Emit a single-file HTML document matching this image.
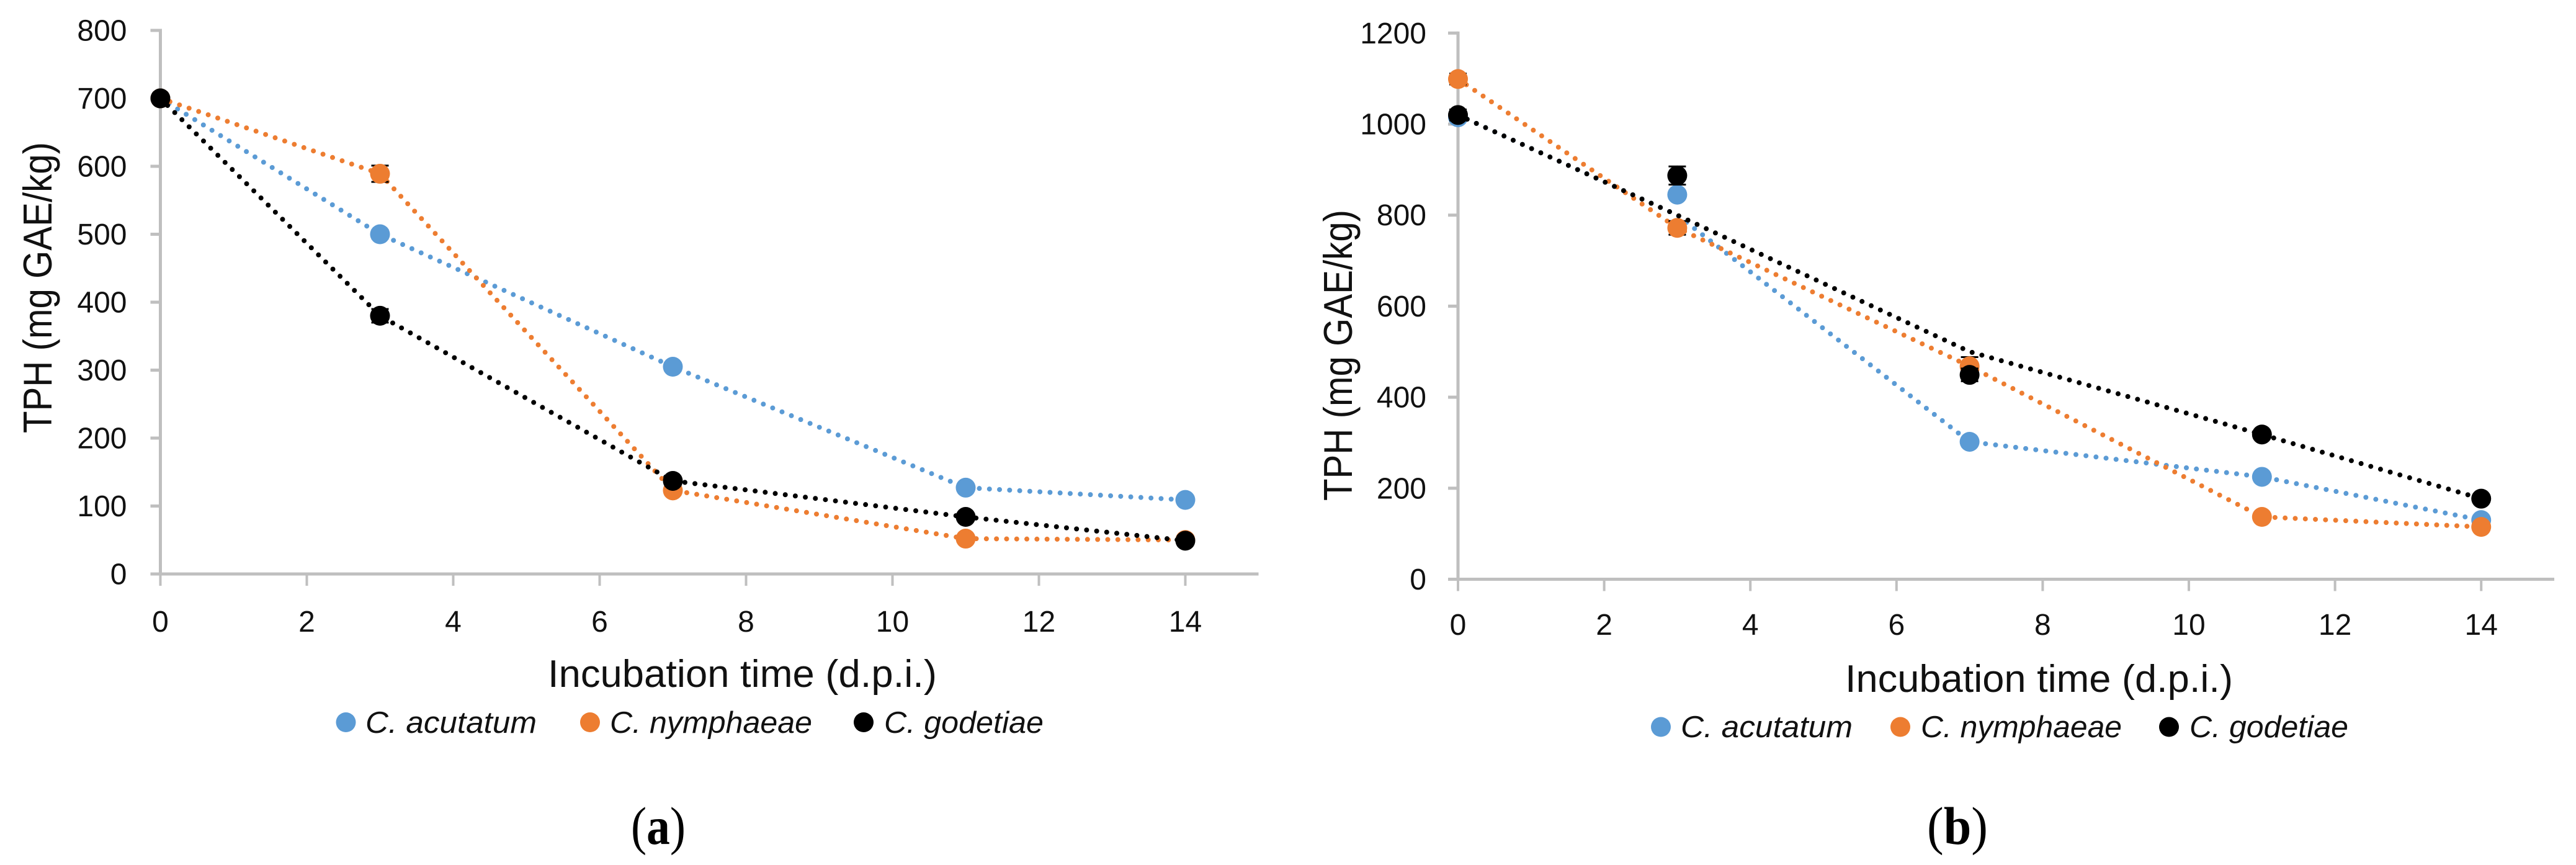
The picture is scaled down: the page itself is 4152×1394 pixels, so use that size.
<!DOCTYPE html>
<html lang="en">
<head>
<meta charset="utf-8">
<title>TPH over incubation time</title>
<style>
  html, body { margin: 0; padding: 0; background: #fff; }
  svg { display: block; font-family: "Liberation Sans", sans-serif; }
  .tick-label { font-size: 48px; fill: #111; }
  .axis-title { font-size: 62px; fill: #111; }
  .y-title { font-size: 65px; }
  .legend-label { font-size: 49px; font-style: italic; fill: #111; }
  .panel-label { font-family: "Liberation Serif", serif; font-size: 86px; fill: #000; }
</style>
</head>
<body>
<svg id="figure" xmlns="http://www.w3.org/2000/svg" width="4152" height="1394" viewBox="0 0 4152 1394">
  <rect width="4152" height="1394" fill="#ffffff"/>

  <g id="chart-a">
    <text class="axis-title" x="883" y="1107" textLength="627" lengthAdjust="spacingAndGlyphs">Incubation time (d.p.i.)</text>
    <text class="axis-title y-title" transform="translate(83 698) rotate(-90)" textLength="469" lengthAdjust="spacingAndGlyphs">TPH (mg GAE/kg)</text>
    <g>
      <g>
        <circle cx="557.5" cy="1164" r="16" fill="#5B9BD5"/>
        <text class="legend-label" x="589" y="1181" textLength="276" lengthAdjust="spacingAndGlyphs">C. acutatum</text>
      </g>
      <g>
        <circle cx="951" cy="1164" r="16" fill="#ED7D31"/>
        <text class="legend-label" x="983" y="1181" textLength="326" lengthAdjust="spacingAndGlyphs">C. nymphaeae</text>
      </g>
      <g>
        <circle cx="1392" cy="1164" r="16" fill="#000000"/>
        <text class="legend-label" x="1425" y="1181" textLength="257" lengthAdjust="spacingAndGlyphs">C. godetiae</text>
      </g>
    </g>
    <text class="panel-label" x="1017" y="1360" textLength="88" lengthAdjust="spacingAndGlyphs">(<tspan font-weight="bold">a</tspan>)</text>
  </g>

  <g id="chart-b">
    <text class="axis-title" x="2974" y="1115" textLength="625" lengthAdjust="spacingAndGlyphs">Incubation time (d.p.i.)</text>
    <text class="axis-title y-title" transform="translate(2179 807) rotate(-90)" textLength="469" lengthAdjust="spacingAndGlyphs">TPH (mg GAE/kg)</text>
    <g>
      <g>
        <circle cx="2677" cy="1171.5" r="16" fill="#5B9BD5"/>
        <text class="legend-label" x="2709" y="1188" textLength="277" lengthAdjust="spacingAndGlyphs">C. acutatum</text>
      </g>
      <g>
        <circle cx="3063" cy="1171.5" r="16" fill="#ED7D31"/>
        <text class="legend-label" x="3096" y="1188" textLength="324" lengthAdjust="spacingAndGlyphs">C. nymphaeae</text>
      </g>
      <g>
        <circle cx="3496" cy="1171.5" r="16" fill="#000000"/>
        <text class="legend-label" x="3529" y="1188" textLength="256" lengthAdjust="spacingAndGlyphs">C. godetiae</text>
      </g>
    </g>
    <text class="panel-label" x="3106" y="1360" textLength="98" lengthAdjust="spacingAndGlyphs">(<tspan font-weight="bold">b</tspan>)</text>
  </g>
</svg>

<script>
// ---- shared categories and ticks
const days = [0, 3, 7, 11, 14];
const xTicks = [0, 2, 4, 6, 8, 10, 12, 14];
const yTicksA = [0, 100, 200, 300, 400, 500, 600, 700, 800];
const yTicksB = [0, 200, 400, 600, 800, 1000, 1200];

// ---- panel (a): mg GAE/kg
const acutatumA = [700, 500, 305, 127, 109];
const nymphaeaeA = [700, 589, 123, 52, 50];
const godetiaeA = [700, 380, 137, 84, 49];
const acutatumErrA = [4, 6, 6, 5, 5];
const nymphaeaeErrA = [4, 12, 6, 4, 4];
const godetiaeErrA = [4, 10, 6, 5, 4];

// ---- panel (b): marker values
const acutatumB = [1015, 845, 302, 225, 130];
const nymphaeaeB = [1099, 772, 468, 137, 115];
const godetiaeB = [1020, 887, 449, 318, 177];
// ---- panel (b): the dotted lines do not pass through every marker
const acutatumLineB = [1020, 800, 302, 225, 130];
const nymphaeaeLineB = [1099, 772, 468, 137, 115];
const godetiaeLineB = [1020, 800, 500, 318, 177];
const acutatumErrB = [6, 8, 6, 6, 6];
const nymphaeaeErrB = [12, 15, 20, 6, 6];
const godetiaeErrB = [12, 20, 14, 6, 6];

const SVG_NS = 'http://www.w3.org/2000/svg';
const AXIS_GREY = '#BFBFBF';

function svgEl(tag, parent) {
  const el = document.createElementNS(SVG_NS, tag);
  parent.appendChild(el);
  return el;
}

function drawPanel(root, tag, geom, yTicks, seriesList) {
  const sx = v => geom.x0 + v * geom.xUnit;
  const sy = v => geom.y0 - v * geom.yUnit;

  const axes = svgEl('g', root);
  
  

  const yLine = svgEl('rect', axes);
  
  
  yLine.setAttribute('x', geom.x0 - 2.5);
  yLine.setAttribute('y', sy(yTicks[yTicks.length - 1]) - 2.5);
  yLine.setAttribute('width', 5);
  yLine.setAttribute('height', geom.y0 - sy(yTicks[yTicks.length - 1]) + 5);
  yLine.setAttribute('fill', AXIS_GREY);

  const xLine = svgEl('rect', axes);
  
  
  xLine.setAttribute('x', geom.x0);
  xLine.setAttribute('y', geom.y0 - 2.5);
  xLine.setAttribute('width', sx(15) - geom.x0);
  xLine.setAttribute('height', 5);
  xLine.setAttribute('fill', AXIS_GREY);

  yTicks.forEach(v => {
    const mark = svgEl('rect', axes);
    
    
    mark.setAttribute('x', geom.x0 - 16);
    mark.setAttribute('y', sy(v) - 2.5);
    mark.setAttribute('width', 16);
    mark.setAttribute('height', 5);
    mark.setAttribute('fill', AXIS_GREY);

    const label = svgEl('text', axes);
    
    
    label.setAttribute('class', 'tick-label');
    label.setAttribute('x', geom.yLabelRight);
    label.setAttribute('y', sy(v) + 16.5);
    label.setAttribute('text-anchor', 'end');
    label.textContent = String(v);
  });

  xTicks.forEach(v => {
    const mark = svgEl('rect', axes);
    
    
    mark.setAttribute('x', sx(v) - 2);
    mark.setAttribute('y', geom.y0);
    mark.setAttribute('width', 4);
    mark.setAttribute('height', 19);
    mark.setAttribute('fill', AXIS_GREY);

    const label = svgEl('text', axes);
    
    
    label.setAttribute('class', 'tick-label');
    label.setAttribute('x', sx(v));
    label.setAttribute('y', geom.xLabelBase);
    label.setAttribute('text-anchor', 'middle');
    label.textContent = String(v);
  });

  seriesList.forEach(s => {
    const group = svgEl('g', root);
    
    

    const line = svgEl('polyline', group);
    
    
    line.setAttribute('points', days.map((d, i) => sx(d) + ',' + sy(s.line[i])).join(' '));
    line.setAttribute('fill', 'none');
    line.setAttribute('stroke', s.color);
    line.setAttribute('stroke-width', 8);
    line.setAttribute('stroke-linecap', 'round');
    line.setAttribute('stroke-dasharray', '0 16.3');

    days.forEach((d, i) => {
      const cx = sx(d);
      const top = sy(s.values[i] + s.err[i]);
      const bottom = sy(s.values[i] - s.err[i]);

      const bar = svgEl('path', group);
      
      
      bar.setAttribute('d', 'M' + (cx - 14) + ' ' + top + 'H' + (cx + 14) + 'M' + cx + ' ' + top + 'V' + bottom + 'M' + (cx - 14) + ' ' + bottom + 'H' + (cx + 14));
      bar.setAttribute('fill', 'none');
      bar.setAttribute('stroke', '#000000');
      bar.setAttribute('stroke-width', 3);

      const dot = svgEl('circle', group);
      
      
      dot.setAttribute('cx', cx);
      dot.setAttribute('cy', sy(s.values[i]));
      dot.setAttribute('r', 16);
      dot.setAttribute('fill', s.color);
    });
  });
}

drawPanel(document.getElementById('chart-a'), 'a',
  { x0: 258.5, xUnit: 118, y0: 925, yUnit: 1.095, yLabelRight: 204.5, xLabelBase: 1018 },
  yTicksA,
  [
    { name: 'acutatum', color: '#5B9BD5', values: acutatumA, line: acutatumA, err: acutatumErrA },
    { name: 'nymphaeae', color: '#ED7D31', values: nymphaeaeA, line: nymphaeaeA, err: nymphaeaeErrA },
    { name: 'godetiae', color: '#000000', values: godetiaeA, line: godetiaeA, err: godetiaeErrA }
  ]);

drawPanel(document.getElementById('chart-b'), 'b',
  { x0: 2350, xUnit: 117.8, y0: 933.5, yUnit: 0.7335, yLabelRight: 2299, xLabelBase: 1023 },
  yTicksB,
  [
    { name: 'acutatum', color: '#5B9BD5', values: acutatumB, line: acutatumLineB, err: acutatumErrB },
    { name: 'nymphaeae', color: '#ED7D31', values: nymphaeaeB, line: nymphaeaeLineB, err: nymphaeaeErrB },
    { name: 'godetiae', color: '#000000', values: godetiaeB, line: godetiaeLineB, err: godetiaeErrB }
  ]);
</script>
</body>
</html>
